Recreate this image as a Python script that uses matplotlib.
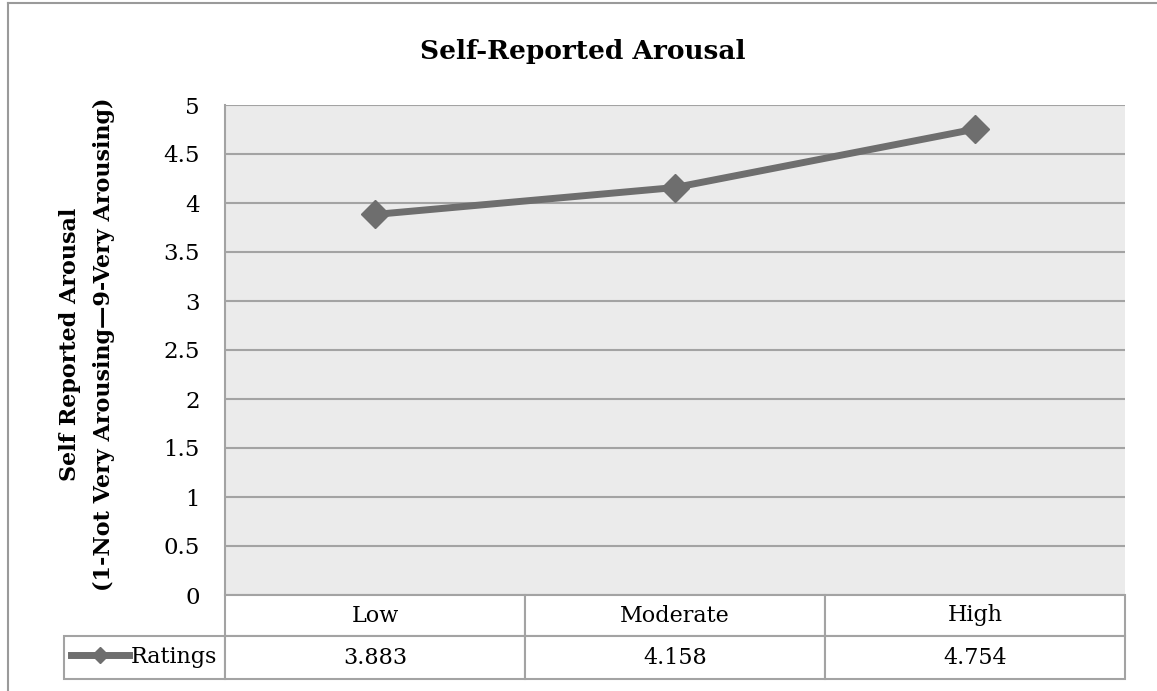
import matplotlib
matplotlib.use("Agg")
import matplotlib.pyplot as plt
from matplotlib.lines import Line2D
from matplotlib.ticker import FuncFormatter

# Mean self-reported arousal ratings per condition
levels = ["Low", "Moderate", "High"]
ratings = [3.883, 4.158, 4.754]
series_name = "Ratings"
yticks = [0, 0.5, 1, 1.5, 2, 2.5, 3, 3.5, 4, 4.5, 5]

LINE_COLOR = "#6e6e6e"
GRID_COLOR = "#a3a3a3"
W, H = 1157, 691

plt.rcParams["font.family"] = ["DejaVu Serif"]

fig = plt.figure(figsize=(W / 100, H / 100), dpi=100)
ax = fig.add_axes([225 / W, 1 - 595 / H, 900 / W, 490 / H])

x = list(range(len(levels)))
ax.plot(x, ratings, color=LINE_COLOR, lw=5, marker="D", ms=14,
        solid_joinstyle="round", zorder=3)

ax.set_xlim(-0.5, len(levels) - 0.5)
ax.set_ylim(0, 5)
ax.set_yticks(yticks)
ax.yaxis.set_major_formatter(FuncFormatter(lambda v, p: f"{v:g}"))
ax.set_xticks([])
ax.tick_params(axis="y", length=0, pad=18, labelsize=16.5)
ax.set_facecolor("#ebebeb")
ax.grid(axis="y", color=GRID_COLOR, lw=1.5)
ax.set_axisbelow(True)
for side in ["top", "right", "bottom"]:
    ax.spines[side].set_visible(False)
ax.spines["left"].set_color(GRID_COLOR)
ax.spines["left"].set_linewidth(1.5)

# data table under the plot: category header row + values row,
# first column holds the legend key (header cell left blank)
label_w = 161 / 900
col_w = 1 / len(levels)
tbl = ax.table(cellText=[[""] + levels, [""] + [f"{v:.3f}" for v in ratings]],
               cellLoc="center", colWidths=[label_w] + [col_w] * len(levels),
               bbox=[-label_w, -84 / 490, 1 + label_w, 84 / 490])
tbl.auto_set_font_size(False)
tbl.set_fontsize(16)
for (r, c), cell in tbl.get_celld().items():
    cell.set_edgecolor(GRID_COLOR)
    cell.set_linewidth(1.5)
    cell.set_facecolor("white")
    cell.set_height(41 if r == 0 else 43)
tbl[0, 0].set_visible(False)

# legend key sitting in the row-label cell
key = Line2D([], [], color=LINE_COLOR, lw=5, marker="D", ms=8)
ax.legend([key], [series_name], loc="center left", frameon=False,
          bbox_to_anchor=(-154 / 900, -62 / 490), fontsize=16,
          handlelength=2.6, handletextpad=0.1, borderpad=0,
          borderaxespad=0)

fig.text(583 / W, 1 - 52 / H, "Self-Reported Arousal", ha="center",
         va="center", fontsize=19, fontweight="bold")
fig.text(87 / W, 1 - 344 / H,
         "Self Reported Arousal\n(1-Not Very Arousing\u20149-Very Arousing)",
         ha="center", va="center", rotation=90, multialignment="center",
         fontsize=16, fontweight="bold", linespacing=1.65)

# chart frame
fig.add_artist(Line2D([8 / W, 8 / W], [0, 1 - 3 / H], color="#9a9a9a", lw=1.5))
fig.add_artist(Line2D([8 / W, 1], [1 - 3 / H, 1 - 3 / H], color="#9a9a9a", lw=1.5))

fig.savefig("out.png", dpi=100)
